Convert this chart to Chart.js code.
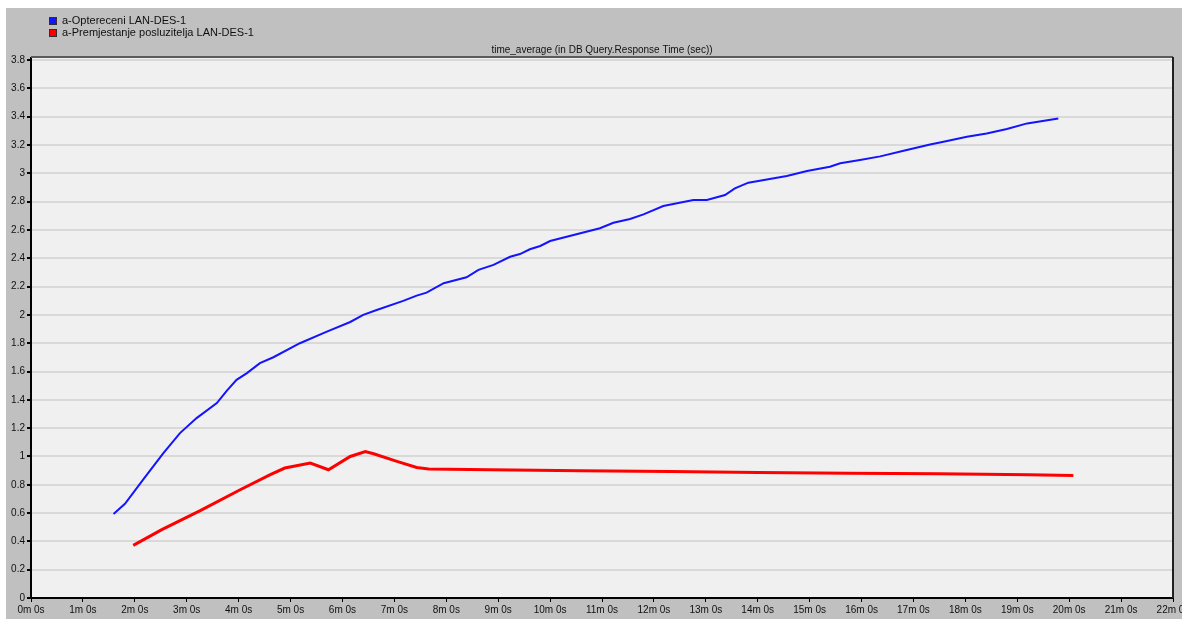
<!DOCTYPE html>
<html>
<head>
<meta charset="utf-8">
<script src="https://cdn.jsdelivr.net/npm/chart.js@4.4.1/dist/chart.umd.min.js"></script>
<style>
  body { margin: 0; background: #fff; }
  canvas { display: block; }
</style>
</head>
<body>
<canvas id="chart" width="1182" height="619"></canvas>
<script>
// series names
const seriesNames = ['a-Optereceni LAN-DES-1', 'a-Premjestanje posluzitelja LAN-DES-1'];
const chartTitle = 'time_average (in DB Query.Response Time (sec))';

// blue series: time in minutes, value in seconds
const blueTime = [1.59, 1.81, 2.16, 2.55, 2.87, 3.19, 3.58, 3.77, 3.96, 4.16, 4.41, 4.67, 5.18, 5.70, 6.15, 6.40, 6.66, 7.17, 7.43, 7.62, 7.95, 8.39, 8.62, 8.91, 9.23, 9.42, 9.61, 9.81, 10.0, 10.96, 11.22, 11.54, 11.80, 12.18, 12.76, 13.02, 13.37, 13.56, 13.82, 14.56, 14.95, 15.39, 15.59, 15.97, 16.36, 16.81, 17.32, 17.58, 18.03, 18.41, 18.80, 19.19, 19.79];
const blueValue = [0.593, 0.666, 0.836, 1.024, 1.165, 1.271, 1.377, 1.464, 1.541, 1.589, 1.659, 1.701, 1.80, 1.882, 1.950, 2.0, 2.035, 2.099, 2.136, 2.157, 2.224, 2.266, 2.318, 2.353, 2.411, 2.43, 2.464, 2.487, 2.522, 2.612, 2.651, 2.678, 2.71, 2.769, 2.812, 2.812, 2.847, 2.894, 2.934, 2.981, 3.016, 3.047, 3.071, 3.094, 3.12, 3.16, 3.204, 3.223, 3.258, 3.282, 3.313, 3.353, 3.388];

// red series
const redTime = [1.97, 2.52, 3.26, 4.03, 4.61, 4.89, 5.38, 5.73, 6.15, 6.44, 6.60, 7.05, 7.43, 7.66, 8.84, 10.58, 12.31, 14.01, 15.75, 17.48, 19.22, 20.08];
const redValue = [0.372, 0.483, 0.617, 0.765, 0.871, 0.918, 0.953, 0.906, 1.0, 1.035, 1.019, 0.965, 0.922, 0.911, 0.906, 0.899, 0.893, 0.887, 0.882, 0.877, 0.871, 0.865];

// axis ticks
const xTicksMin = [0, 1, 2, 3, 4, 5, 6, 7, 8, 9, 10, 11, 12, 13, 14, 15, 16, 17, 18, 19, 20, 21, 22];
const yTicks = [0, 0.2, 0.4, 0.6, 0.8, 1, 1.2, 1.4, 1.6, 1.8, 2, 2.2, 2.4, 2.6, 2.8, 3, 3.2, 3.4, 3.6, 3.8];

const colors = ['#1414ff', '#ff0000'];
const FONT = '"Liberation Sans", Arial, sans-serif';

function toPoints(times, values) {
  return times.map((t, i) => ({ x: t, y: values[i] }));
}

// grey panel, plot background, frame, legend and title
const panelPlugin = {
  id: 'panel',
  beforeDraw(chart) {
    const ctx = chart.ctx;
    const a = chart.chartArea;
    ctx.save();
    ctx.fillStyle = '#ffffff';
    ctx.fillRect(0, 0, chart.width, chart.height);
    ctx.fillStyle = '#c0c0c0';
    ctx.fillRect(6, 8, chart.width - 6, chart.height - 8);
    ctx.fillStyle = '#f0f0f0';
    ctx.fillRect(a.left, a.top, a.right - a.left, a.bottom - a.top);
    ctx.restore();
  },
  afterDraw(chart) {
    const ctx = chart.ctx;
    const a = chart.chartArea;
    ctx.save();
    // top and right frame
    ctx.strokeStyle = '#5a5a5a';
    ctx.lineWidth = 2;
    ctx.beginPath();
    ctx.moveTo(a.left, a.top - 1);
    ctx.lineTo(a.right, a.top - 1);
    ctx.stroke();
    ctx.strokeStyle = '#202020';
    ctx.beginPath();
    ctx.moveTo(a.right, a.top - 1);
    ctx.lineTo(a.right, a.bottom);
    ctx.stroke();

    // legend
    ctx.font = '11px ' + FONT;
    ctx.textBaseline = 'middle';
    seriesNames.forEach((name, i) => {
      const y = 21 + i * 12;
      ctx.fillStyle = colors[i];
      ctx.fillRect(50, y - 3, 6, 6);
      ctx.strokeStyle = '#303030';
      ctx.lineWidth = 1;
      ctx.strokeRect(49.5, y - 3.5, 7, 7);
      ctx.fillStyle = '#101010';
      ctx.fillText(name, 62, y);
    });

    // title
    ctx.textAlign = 'center';
    ctx.font = '10px ' + FONT;
    ctx.fillText(chartTitle, (a.left + a.right) / 2, 50);
    ctx.restore();
  }
};

new Chart(document.getElementById('chart'), {
  type: 'line',
  data: {
    datasets: [
      {
        label: seriesNames[0],
        data: toPoints(blueTime, blueValue),
        borderColor: colors[0],
        borderWidth: 2,
        pointRadius: 0,
        tension: 0,
        fill: false
      },
      {
        label: seriesNames[1],
        data: toPoints(redTime, redValue),
        borderColor: colors[1],
        borderWidth: 3,
        pointRadius: 0,
        tension: 0,
        fill: false
      }
    ]
  },
  options: {
    responsive: false,
    animation: false,
    layout: { padding: { top: 58, right: 9, bottom: 0, left: 0 } },
    plugins: {
      legend: { display: false },
      title: { display: false },
      tooltip: { enabled: false }
    },
    scales: {
      x: {
        type: 'linear',
        min: 0,
        max: 22,
        afterBuildTicks: s => { s.ticks = xTicksMin.map(v => ({ value: v })); },
        afterFit: s => { s.height = 21; s.paddingLeft = 0; s.paddingRight = 0; },
        ticks: {
          font: { family: FONT, size: 10 },
          color: '#101010',
          padding: 2,
          maxRotation: 0,
          autoSkip: false,
          callback: v => v + 'm 0s'
        },
        grid: {
          drawOnChartArea: false,
          drawTicks: true,
          tickLength: 4,
          tickColor: '#000000'
        },
        border: { display: true, color: '#000000', width: 2 }
      },
      y: {
        min: 0,
        max: 3.815,
        afterBuildTicks: s => { s.ticks = yTicks.map(v => ({ value: v })); },
        afterFit: s => { s.width = 31; s.paddingTop = 0; s.paddingBottom = 0; },
        ticks: {
          font: { family: FONT, size: 10 },
          color: '#101010',
          padding: 2,
          autoSkip: false,
          callback: v => String(+v.toFixed(1))
        },
        grid: {
          color: '#d9d9d9',
          lineWidth: 2,
          drawTicks: true,
          tickLength: 4,
          tickColor: '#000000'
        },
        border: { display: true, color: '#000000', width: 2 }
      }
    }
  },
  plugins: [panelPlugin]
});
</script>
</body>
</html>
